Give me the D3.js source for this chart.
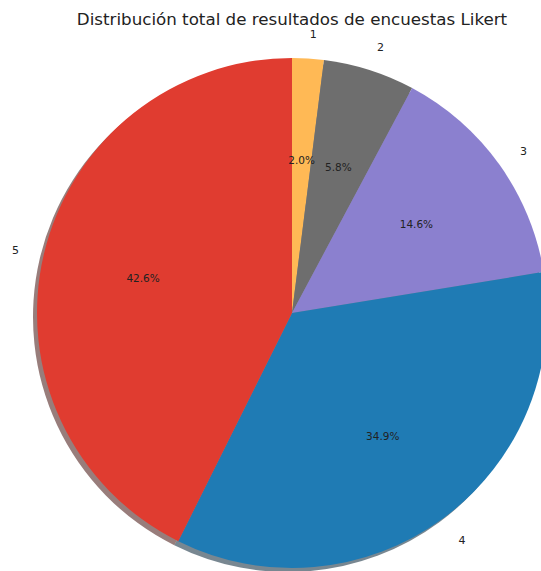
<!DOCTYPE html>
<html lang="es">
<head>
  <meta charset="UTF-8">
  <title>Likert</title>
  <script src="https://d3js.org/d3.v7.min.js"></script>
  <style>
    body { margin: 0; background: #fff; }
    text { font-family: "DejaVu Sans", sans-serif; fill: #222; }
  </style>
</head>
<body>
  <div id="chart"></div>
  <script>
    // datos
    var categorias = ["1", "2", "3", "4", "5"];
    var porcentajes = [2.0, 5.8, 14.6, 34.9, 42.6];
    var colores = ["#ffb955", "#6e6e6e", "#8b80cf", "#1f7bb4", "#e03c30"];

    var width = 541, height = 571;
    var cx = 292, cy = 313, r = 255;

    var svg = d3.select("#chart").append("svg")
      .attr("width", width)
      .attr("height", height);

    // titulo
    svg.append("text")
      .attr("x", 292)
      .attr("y", 25)
      .attr("text-anchor", "middle")
      .style("font-size", "16.7px")
      .text("Distribución total de resultados de encuestas Likert");

    var datos = categorias.map(function(c, i) { return {cat: c, val: porcentajes[i], color: colores[i]}; });

    // sentido horario desde arriba
    var pie = d3.pie().sort(null).value(function(d) { return d.val; });
    var arcs = pie(datos);
    var arc = d3.arc().innerRadius(0).outerRadius(r);

    // sombra
    var sombra = svg.append("g").attr("transform", "translate(" + (cx - 4) + "," + (cy + 4) + ")");
    sombra.selectAll("path")
      .data(arcs)
      .enter().append("path")
      .attr("d", arc)
      .style("fill", function(d) {
        var c = d3.rgb(d.data.color);
        return d3.rgb(c.r * 0.3, c.g * 0.3, c.b * 0.3);
      })
      .style("opacity", 0.55);

    var g = svg.append("g").attr("transform", "translate(" + cx + "," + cy + ")");
    g.selectAll("path.slice")
      .data(arcs)
      .enter().append("path")
      .attr("class", "slice")
      .attr("d", arc)
      .style("fill", function(d) { return d.data.color; });

    function pos(d, f) {
      var a = (d.startAngle + d.endAngle) / 2;
      return [Math.sin(a) * r * f, -Math.cos(a) * r * f];
    }

    // etiquetas de categoria
    g.selectAll("text.lab")
      .data(arcs)
      .enter().append("text")
      .attr("class", "lab")
      .attr("x", function(d) { return pos(d, 1.1)[0]; })
      .attr("y", function(d) { return pos(d, 1.1)[1]; })
      .attr("dy", "0.45em")
      .attr("text-anchor", function(d) { return pos(d, 1.1)[0] > 0 ? "start" : "end"; })
      .style("font-size", "11px")
      .text(function(d) { return d.data.cat; });

    // porcentajes
    g.selectAll("text.pct")
      .data(arcs)
      .enter().append("text")
      .attr("class", "pct")
      .attr("x", function(d) { return pos(d, 0.6)[0]; })
      .attr("y", function(d) { return pos(d, 0.6)[1]; })
      .attr("dy", "0.35em")
      .attr("text-anchor", "middle")
      .style("font-size", "10.5px")
      .text(function(d) { return d.data.val.toFixed(1) + "%"; });
  </script>
</body>
</html>
